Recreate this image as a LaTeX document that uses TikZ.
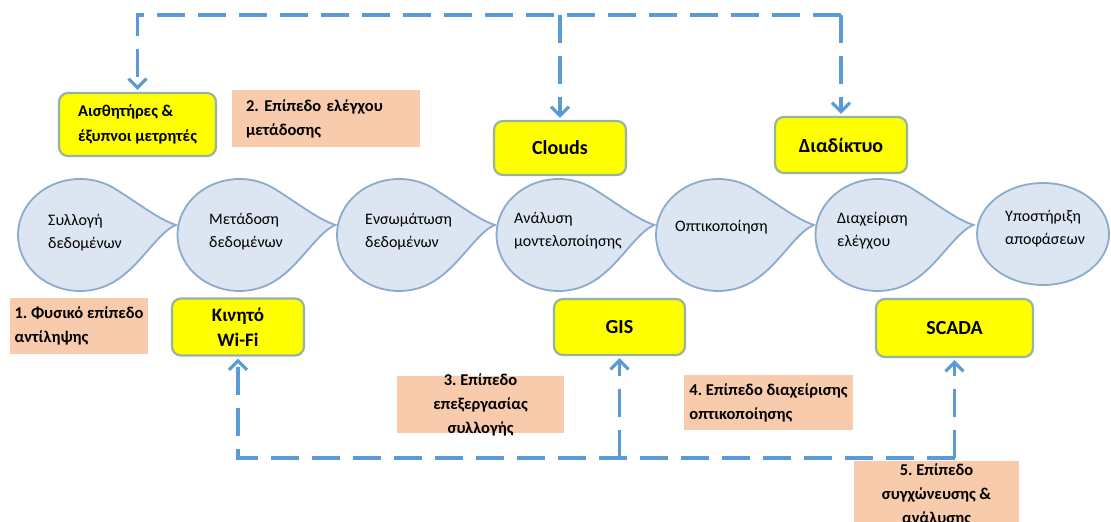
\documentclass[tikz,border=0pt]{standalone}
\usepackage{fontspec}
\setmainfont{Carlito}
\usetikzlibrary{arrows.meta}
\frenchspacing

\definecolor{dropfill}{RGB}{220,230,242}
\definecolor{dropline}{RGB}{140,170,205}
\definecolor{ylw}{RGB}{255,255,0}
\definecolor{ylwline}{RGB}{150,180,160}
\definecolor{peach}{RGB}{248,203,173}
\definecolor{flowblue}{RGB}{91,155,213}

\tikzset{
  dropshape/.style={fill=dropfill, draw=dropline, line width=1.8pt},
  droptext/.style={font=\fontsize{16}{23}\selectfont, align=left, inner sep=0pt, anchor=west},
  techbox/.style={rectangle, rounded corners=9pt, fill=ylw, draw=ylwline, line width=2.2pt,
    font=\bfseries\fontsize{20}{25}\selectfont, inner sep=0pt},
  layerbox/.style={rectangle, fill=peach, font=\bfseries\fontsize{16.5}{24}\selectfont, inner sep=0pt},
  flow/.style={draw=flowblue, line width=3.2pt, dash pattern=on 28pt off 13pt},
  flowtip/.style={-{Straight Barb[length=9pt,width=18pt]}, shorten >=2pt},
  pics/teardrop/.style={code={
    \path[dropshape] (96,10) .. controls (78,16) and (61,30) .. (35.56,45.87)
      arc[start angle=55, end angle=305, x radius=62, y radius=56]
      .. controls (61,-30) and (78,3) .. (96,10) -- cycle;
  }},
}

\begin{document}
\begin{tikzpicture}[x=1pt,y=1pt]
\useasboundingbox (0,0) rectangle (1111,522);
\clip (0,0) rectangle (1111,522);

% process chain: six teardrops and a closing ellipse
\foreach \i in {0,...,5} {
  \pic at ({80+159.5*\i},287) {teardrop};
}
\path[dropshape] (1043,288) ellipse [x radius=66, y radius=51];

\node[droptext] (t1) at (48,289)  {Συλλογή\\δεδομένων};
\node[droptext] (t2) at (209,290) {Μετάδοση\\δεδομένων};
\node[droptext] (t3) at (365,290) {Ενσωμάτωση\\δεδομένων};
\node[droptext] (t4) at (514,291) {Ανάλυση\\μοντελοποίησης};
\node[droptext] (t5) at (675,295) {Οπτικοποίηση};
\node[droptext] (t6) at (837,291) {Διαχείριση\\ελέγχου};
\node[droptext] (t7) at (1005,293) {Υποστήριξη\\αποφάσεων};

% technology boxes
\node[techbox, minimum width=157, minimum height=63, align=left,
      font=\bfseries\fontsize{16.5}{25}\selectfont] (sens) at (137.5,397.5)
      {Αισθητήρες \&\\έξυπνοι μετρητές};
\node[techbox, minimum width=132, minimum height=54] (clouds) at (560,374) {Clouds};
\node[techbox, minimum width=132, minimum height=56] (inet) at (841,377) {Διαδίκτυο};
\node[techbox, minimum width=132, minimum height=57, align=center,
      font=\bfseries\fontsize{19}{25}\selectfont] (kin) at (238,195) {Κινητό\\Wi-Fi};
\node[techbox, minimum width=131, minimum height=56] (gis) at (619.5,195) {GIS};
\node[techbox, minimum width=157, minimum height=58] (scada) at (954.5,194) {SCADA};

% layer labels
\node[layerbox, minimum width=138, minimum height=56, align=left] (lay1) at (79,196)
      {1. Φυσικό επίπεδο\\αντίληψης};
\node[layerbox, inner xsep=14pt, text width=160pt, minimum height=57, align=left] (lay2) at (326,403.5)
      {2. Επίπεδο ελέγχου\\μετάδοσης};
\node[layerbox, minimum width=167, minimum height=57, inner ysep=-5pt, align=center] (lay3) at (480.5,117.5)
      {3. Επίπεδο\\επεξεργασίας\\συλλογής};
\node[layerbox, minimum width=169, minimum height=55, align=left] (lay4) at (768.5,119.5)
      {4. Επίπεδο διαχείρισης\\οπτικοποίησης};
\node[layerbox, minimum width=165, minimum height=67, inner ysep=-5pt, align=center] (lay5) at (936.5,27)
      {5. Επίπεδο\\συγχώνευσης \&\\ανάλυσης};

% upper feedback network
\coordinate (tL) at (sens.north |- 0,507);
\coordinate (tR) at (inet.north |- 0,507);
\coordinate (tM) at (clouds.north |- 0,507);
\draw[flow, flowtip] (tR) -- (tL) -- (sens.north);
\draw[flow, flowtip] (tR) -- (inet.north);
\draw[flow, flowtip] (tM) -- (clouds.north);

% lower feedback network
\coordinate (bL) at (kin.south |- 0,64);
\coordinate (bR) at (scada.south |- 0,64);
\coordinate (bM) at (gis.south |- 0,64);
\draw[flow, flowtip] (bR) -- (bL) -- (kin.south);
\draw[flow, flowtip] (bR) -- (scada.south);
\draw[flow, flowtip] (bM) -- (gis.south);
\end{tikzpicture}
\end{document}
